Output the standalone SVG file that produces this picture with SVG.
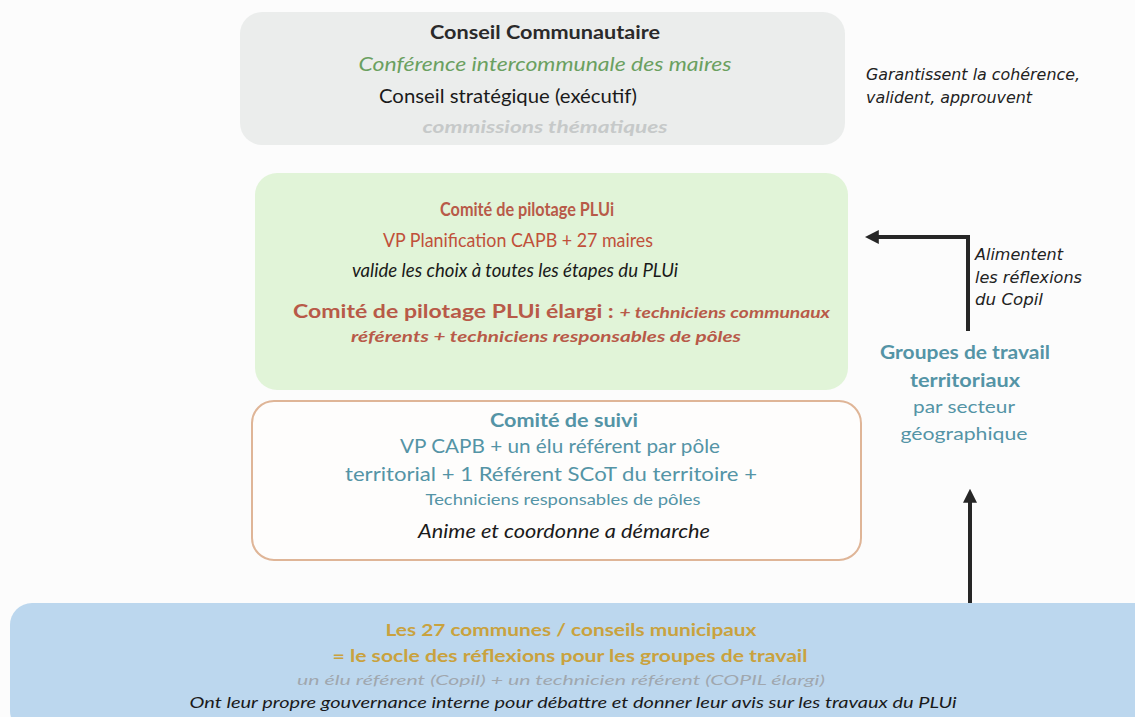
<svg xmlns="http://www.w3.org/2000/svg" width="1135" height="717" viewBox="0 0 1135 717">
<defs>
<style>
text{font-family:Lato,"Open Sans","Liberation Sans",sans-serif;text-anchor:middle}
.b{font-weight:bold}
.i{font-style:italic}
.side{font-family:"DejaVu Sans",Verdana,sans-serif;font-style:italic;font-size:15px;fill:#222;text-anchor:start}
.conn{fill:none;stroke:#262626;stroke-width:4}
.red{fill:#b85a48}
.teal{fill:#5494a6}
.gold{fill:#c9a23e}
</style>
<marker id="ah" markerWidth="8" markerHeight="8" refX="4" refY="4" orient="auto" markerUnits="userSpaceOnUse" viewBox="0 0 8 8">
<path d="M0,0 L8,4 L0,8 Z" fill="#262626"/>
</marker>
<marker id="ah2" viewBox="0 0 10 10" refX="2" refY="5" markerWidth="14" markerHeight="14" markerUnits="userSpaceOnUse" orient="auto">
<path d="M0,0 L10,5 L0,10 Z" fill="#262626"/>
</marker>
</defs>
<rect width="1135" height="717" fill="#fcfcfc"/>

<g id="conseil">
<rect x="240" y="12" width="605" height="133" rx="22" fill="#ebedec"/>
<text x="545" y="39" class="b" font-size="19" fill="#2a2a2a" textLength="230" lengthAdjust="spacingAndGlyphs">Conseil Communautaire</text>
<text x="545" y="71" class="i" font-size="19" fill="#6aa060" textLength="373" lengthAdjust="spacingAndGlyphs">Conférence intercommunale des maires</text>
<text x="508" y="103" font-size="19" fill="#1a1a1a" textLength="258" lengthAdjust="spacingAndGlyphs">Conseil stratégique (exécutif)</text>
<text x="545" y="133" class="i b" font-size="17" fill="#c6c9c9" textLength="245" lengthAdjust="spacingAndGlyphs">commissions thématiques</text>
</g>

<g id="note-conseil">
<text x="866" y="80" class="side" textLength="214" lengthAdjust="spacingAndGlyphs">Garantissent la cohérence,</text>
<text x="866" y="103" class="side" textLength="166" lengthAdjust="spacingAndGlyphs">valident, approuvent</text>
</g>

<g id="copil">
<rect x="255" y="173" width="593" height="217" rx="22" fill="#e1f4d8"/>
<text x="527" y="216" class="b red" font-size="18" textLength="174" lengthAdjust="spacingAndGlyphs">Comité de pilotage PLUi</text>
<text x="518" y="247" font-size="19" fill="#c0503a" textLength="270" lengthAdjust="spacingAndGlyphs">VP Planification CAPB + 27 maires</text>
<text x="515" y="277" class="i" font-size="19" fill="#1a1a1a" textLength="326" lengthAdjust="spacingAndGlyphs">valide les choix à toutes les étapes du PLUi</text>
<text x="293" y="318" class="b red" font-size="18" style="text-anchor:start" textLength="537" lengthAdjust="spacingAndGlyphs">Comité de pilotage PLUi élargi : <tspan class="i" font-size="15">+ techniciens communaux</tspan></text>
<text x="546" y="342" class="b i red" font-size="15" textLength="390" lengthAdjust="spacingAndGlyphs">référents + techniciens responsables de pôles</text>
</g>

<g id="suivi">
<rect x="252" y="401" width="609" height="159" rx="22" fill="#fefdfc" stroke="#dfb597" stroke-width="2"/>
<text x="564" y="427" class="b teal" font-size="18" textLength="148" lengthAdjust="spacingAndGlyphs">Comité de suivi</text>
<text x="560" y="453" class="teal" font-size="19" textLength="320" lengthAdjust="spacingAndGlyphs">VP CAPB + un élu référent par pôle</text>
<text x="551" y="481" class="teal" font-size="19" textLength="412" lengthAdjust="spacingAndGlyphs">territorial + 1 Référent SCoT du territoire +</text>
<text x="563" y="505" class="teal" font-size="16" textLength="275" lengthAdjust="spacingAndGlyphs">Techniciens responsables de pôles</text>
<text x="564" y="538" class="i" font-size="19" fill="#1a1a1a" textLength="292" lengthAdjust="spacingAndGlyphs">Anime et coordonne a démarche</text>
</g>

<g id="groupes">
<text x="965" y="359" class="b teal" font-size="18" textLength="170" lengthAdjust="spacingAndGlyphs">Groupes de travail</text>
<text x="965" y="387" class="b teal" font-size="18" textLength="110" lengthAdjust="spacingAndGlyphs">territoriaux</text>
<text x="964" y="413" class="teal" font-size="18" textLength="102" lengthAdjust="spacingAndGlyphs">par secteur</text>
<text x="964" y="440" class="teal" font-size="18" textLength="127" lengthAdjust="spacingAndGlyphs">géographique</text>
</g>

<g id="note-groupes">
<text x="975" y="260" class="side" textLength="88" lengthAdjust="spacingAndGlyphs">Alimentent</text>
<text x="975" y="283" class="side" textLength="107" lengthAdjust="spacingAndGlyphs">les réflexions</text>
<text x="975" y="305" class="side" textLength="68" lengthAdjust="spacingAndGlyphs">du Copil</text>
</g>

<g id="communes">
<rect x="10" y="603" width="1150" height="130" rx="22" fill="#bcd7ee"/>
<text x="571" y="636" class="b gold" font-size="17" textLength="371" lengthAdjust="spacingAndGlyphs">Les 27 communes / conseils municipaux</text>
<text x="570" y="662" class="b gold" font-size="17" textLength="475" lengthAdjust="spacingAndGlyphs">= le socle des réflexions pour les groupes de travail</text>
<text x="561" y="685" class="i" font-size="14" fill="#a0a7ae" textLength="528" lengthAdjust="spacingAndGlyphs">un élu référent (Copil) + un technicien référent (COPIL élargi)</text>
<text x="573" y="708" class="i" font-size="16" fill="#1a1a1a" textLength="767" lengthAdjust="spacingAndGlyphs">Ont leur propre gouvernance interne pour débattre et donner leur avis sur les travaux du PLUi</text>
</g>

<g id="connectors">
<path class="conn" d="M968,331 V237 H876" marker-end="url(#ah2)"/>
<path class="conn" d="M970,603 V500" marker-end="url(#ah2)"/>
</g>
</svg>
